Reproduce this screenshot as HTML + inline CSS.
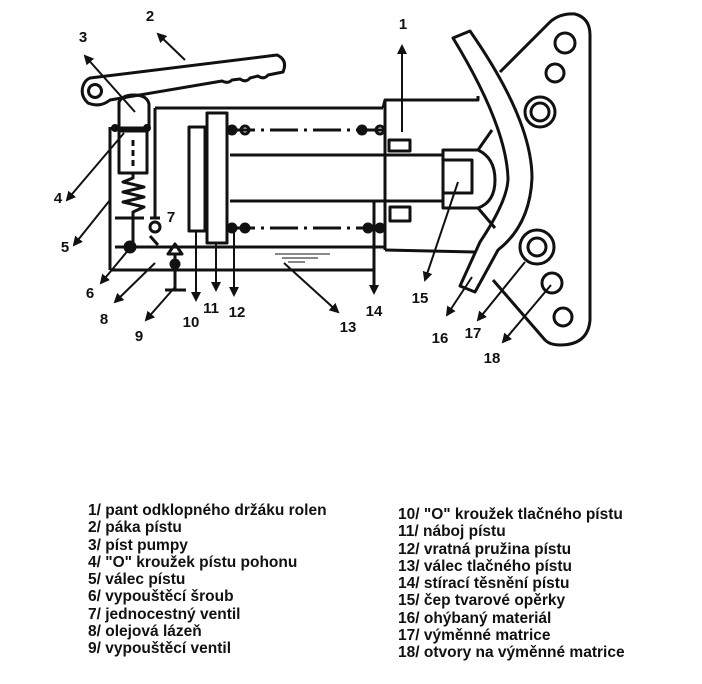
<!DOCTYPE html>
<html><head><meta charset="utf-8"><style>
html,body{margin:0;padding:0;background:#fff;width:702px;height:684px;overflow:hidden}
svg{position:absolute;left:0;top:0}
.lg{position:absolute;font-family:"Liberation Sans",Arial,sans-serif;font-weight:bold;font-size:15.5px;line-height:17.3px;color:#111;white-space:pre}
</style></head><body>
<svg width="702" height="684" viewBox="0 0 702 684">
<defs><marker id="a" viewBox="0 0 10 10" refX="8" refY="5" markerWidth="5" markerHeight="5" orient="auto"><path d="M0,0L10,5L0,10z" fill="#111"/></marker></defs>
<g fill="none" stroke="#111" stroke-width="3" stroke-linejoin="round">
<path d="M90,78 L277,55 Q288,60 283,72 L268,75 Q264,80 258,76 L250,78 Q246,83 240,79 L232,80 Q228,84 222,81 L110,100 Q100,108 88,103 Q80,96 83,86 Q85,80 90,78 Z"/>
<circle cx="95" cy="91" r="6.5"/>
<path d="M119,127 L119,102 Q122,95 134,95 Q147,95 149,104 L149,127"/>
<line x1="112" y1="128" x2="150" y2="128"/>
<circle cx="115" cy="128" r="2.5" fill="#111"/><circle cx="147" cy="128" r="2.5" fill="#111"/>
<rect x="119" y="131" width="28" height="42"/>
<line x1="133" y1="140" x2="133" y2="168" stroke-dasharray="6,4"/>
<path d="M133,173 L133,178 L123,182 L144,187 L123,192 L144,197 L123,202 L144,207 L133,212 L133,247"/>
<line x1="110" y1="127" x2="110" y2="270"/>
<line x1="115" y1="218" x2="144" y2="218"/><line x1="150" y1="218" x2="160" y2="218"/>
<line x1="155" y1="108" x2="383" y2="108"/><line x1="155" y1="108" x2="155" y2="218"/>
<circle cx="155" cy="227" r="5"/><line x1="150" y1="236" x2="158" y2="245"/>
<line x1="115" y1="247" x2="385" y2="247"/><line x1="110" y1="270" x2="374" y2="270"/>
<circle cx="130" cy="247" r="5" fill="#111"/>
<path d="M168,254 L175,244 L182,254 Z"/><circle cx="175" cy="264" r="4" fill="#111"/>
<line x1="175" y1="254" x2="175" y2="290"/><line x1="165" y1="290" x2="186" y2="290"/>
<rect x="189" y="127" width="16" height="104"/>
<rect x="207" y="113" width="20" height="130"/>
<line x1="227" y1="130" x2="383" y2="130" stroke-dasharray="28,6,3,6"/>
<line x1="227" y1="228" x2="383" y2="228" stroke-dasharray="28,6,3,6"/>
<circle cx="232" cy="130" r="4" fill="#111"/><circle cx="245" cy="130" r="4"/><circle cx="362" cy="130" r="4" fill="#111"/><circle cx="380" cy="130" r="4"/>
<circle cx="232" cy="228" r="4" fill="#111"/><circle cx="245" cy="228" r="4" fill="#111"/><circle cx="368" cy="228" r="4" fill="#111"/><circle cx="380" cy="228" r="4" fill="#111"/>
<line x1="230" y1="155" x2="443" y2="155"/><line x1="230" y1="201" x2="443" y2="201"/>
<line x1="374" y1="200" x2="374" y2="290"/>
<path d="M383,108 L385,100 L478,100 L478,96"/>
<line x1="385" y1="100" x2="385" y2="250"/>
<line x1="385" y1="250" x2="475" y2="252"/>
<rect x="389" y="140" width="21" height="11"/><rect x="390" y="207" width="20" height="14"/>
<path d="M443,150 L478,150 Q495,158 495,180 Q495,202 478,208 L443,208 Z"/>
<rect x="443" y="160" width="29" height="33"/>
<line x1="478" y1="150" x2="492" y2="130"/><line x1="478" y1="208" x2="495" y2="228"/>
<path d="M453,38 L470,31 Q532,120 532,178 Q530,225 498,250 L475,292 L460,286 L480,242 Q508,200 508,178 Q506,125 453,38 Z"/>
<path d="M500,72 L550,22 Q560,13 575,14 Q590,18 590,35 L590,320 Q588,345 560,345 Q550,345 545,340 L493,280"/>
<circle cx="565" cy="43" r="10"/><circle cx="555" cy="73" r="9"/>
<circle cx="540" cy="112" r="15"/><circle cx="540" cy="112" r="9"/>
<circle cx="537" cy="247" r="17"/><circle cx="537" cy="247" r="9"/>
<circle cx="552" cy="283" r="10"/><circle cx="563" cy="317" r="9"/>
</g>
<g stroke="#111" stroke-width="2" fill="none" marker-end="url(#a)">
<line x1="402" y1="132" x2="402" y2="46"/>
<line x1="185" y1="60" x2="158" y2="34"/>
<line x1="135" y1="112" x2="85" y2="56"/>
<line x1="124" y1="133" x2="67" y2="200"/>
<line x1="110" y1="200" x2="74" y2="245"/>
<line x1="130" y1="248" x2="101" y2="283"/>
<line x1="155" y1="263" x2="115" y2="302"/>
<line x1="175" y1="287" x2="146" y2="320"/>
<line x1="196" y1="231" x2="196" y2="300"/>
<line x1="216" y1="243" x2="216" y2="290"/>
<line x1="234" y1="228" x2="234" y2="295"/>
<line x1="284" y1="263" x2="338" y2="312"/>
<line x1="374" y1="280" x2="374" y2="293"/>
<line x1="458" y1="182" x2="425" y2="280"/>
<line x1="472" y1="277" x2="447" y2="315"/>
<line x1="525" y1="262" x2="478" y2="320"/>
<line x1="551" y1="285" x2="503" y2="342"/>
</g>
<g stroke="#111" stroke-width="1"><line x1="275" y1="254" x2="330" y2="254"/><line x1="282" y1="258" x2="318" y2="258"/><line x1="288" y1="262" x2="305" y2="262"/></g>
<g font-family="Liberation Sans,Arial,sans-serif" font-weight="bold" font-size="15" fill="#111" text-anchor="middle">
<text x="403" y="29">1</text><text x="150" y="21">2</text><text x="83" y="42">3</text>
<text x="58" y="203">4</text><text x="65" y="252">5</text><text x="90" y="298">6</text>
<text x="171" y="222">7</text><text x="104" y="324">8</text><text x="139" y="341">9</text>
<text x="191" y="327">10</text><text x="211" y="313">11</text><text x="237" y="317">12</text>
<text x="348" y="332">13</text><text x="374" y="316">14</text><text x="420" y="303">15</text>
<text x="440" y="343">16</text><text x="473" y="338">17</text><text x="492" y="363">18</text>
</g>
</svg>
<div class="lg" style="left:88px;top:502px">1/ pant odklopného držáku rolen
2/ páka pístu
3/ píst pumpy
4/ "O" kroužek pístu pohonu
5/ válec pístu
6/ vypouštěcí šroub
7/ jednocestný ventil
8/ olejová lázeň
9/ vypouštěcí ventil</div>
<div class="lg" style="left:398px;top:506px">10/ "O" kroužek tlačného pístu
11/ náboj pístu
12/ vratná pružina pístu
13/ válec tlačného pístu
14/ stírací těsnění pístu
15/ čep tvarové opěrky
16/ ohýbaný materiál
17/ výměnné matrice
18/ otvory na výměnné matrice</div>
</body></html>
